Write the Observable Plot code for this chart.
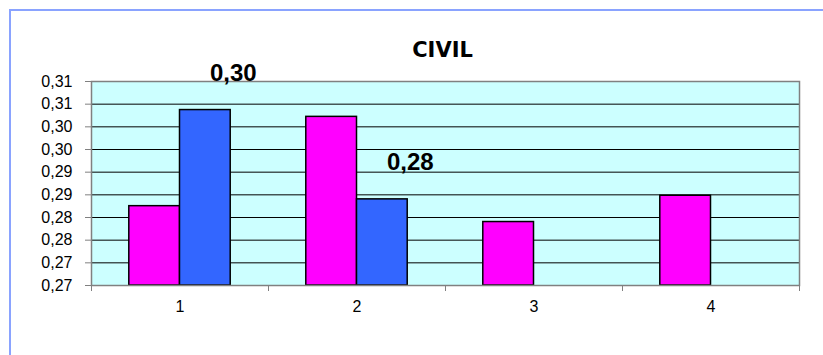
<!DOCTYPE html>
<html>
<head>
<meta charset="utf-8">
<script src="https://cdn.jsdelivr.net/npm/d3@7"></script>
<script src="https://cdn.jsdelivr.net/npm/@observablehq/plot@0.6"></script>
<style>
  html, body { margin: 0; padding: 0; background: #fff; }
  #wrap { position: relative; width: 823px; height: 355px; overflow: hidden; }
  #border { position: absolute; left: 9px; top: 9px; width: 840px; height: 380px;
            border: 2px solid #8aa3ff; box-sizing: border-box; }
  #chart { position: absolute; left: 0; top: 0; }
</style>
</head>
<body>
<div id="wrap"><div id="border"></div><div id="chart"></div></div>
<script>
const title = "CIVIL";
const categories = [1, 2, 3, 4];
const seriesMagenta = [0.2825, 0.3022, 0.2790, 0.2848];
const seriesBlue = [0.3037, 0.2840, null, null];
const yTicks = [0.265, 0.27, 0.275, 0.28, 0.285, 0.29, 0.295, 0.30, 0.305, 0.31];
const yTickLabels = ["0,27", "0,27", "0,28", "0,28", "0,29", "0,29", "0,30", "0,30", "0,31", "0,31"];

const W = 823, H = 355, mL = 91, mR = 24, mT = 81, mB = 70;
const yMin = yTicks[0], yMax = yTicks[yTicks.length - 1];
const step = (W - mL - mR) / categories.length;
const barPx = step * 0.2865;
const gapPx = (step - 2 * barPx) / 2;

const magRows = categories.map((c, i) => ({cat: c, value: seriesMagenta[i]}));
const blueRows = categories.map((c, i) => ({cat: c, value: seriesBlue[i]})).filter(d => d.value != null);
const boundaries = categories.map(c => c - 0.5).concat([categories[categories.length - 1] + 0.5]);
const fmt = v => v.toFixed(2).replace(".", ",");

const chart = Plot.plot({
  width: W, height: H,
  marginLeft: mL, marginRight: mR, marginTop: mT, marginBottom: mB,
  style: {background: "transparent", fontFamily: "'Liberation Sans', Arial, sans-serif", fontSize: "16px", color: "#000", overflow: "visible"},
  x: {type: "linear", domain: [boundaries[0], boundaries[boundaries.length - 1]]},
  y: {domain: [yMin, yMax]},
  marks: [
    Plot.frame({fill: "#ccffff", stroke: null}),
    Plot.ruleY(yTicks.slice(1, -1), {stroke: "#000", strokeWidth: 1}),
    Plot.rectY(magRows, {x1: d => d.cat - 0.5, x2: d => d.cat + 0.5, y1: d => yMin, y2: "value",
      fill: "#ff00ff", stroke: "#000", strokeWidth: 1.5, insetLeft: gapPx, insetRight: gapPx + barPx}),
    Plot.rectY(blueRows, {x1: d => d.cat - 0.5, x2: d => d.cat + 0.5, y1: d => yMin, y2: "value",
      fill: "#3366ff", stroke: "#000", strokeWidth: 1.5, insetLeft: gapPx + barPx, insetRight: gapPx}),
    Plot.frame({stroke: "#808080", strokeWidth: 1.5, fill: null}),
    Plot.axisY({ticks: yTicks, tickFormat: d => yTickLabels[yTicks.indexOf(d)], tickSize: 6, tickPadding: 13,
      stroke: "#808080", fontSize: 16, label: null}),
    Plot.axisX({ticks: boundaries, tickFormat: () => "", tickSize: 6, stroke: "#808080", label: null}),
    Plot.axisX({ticks: categories, tickFormat: d => String(d), tickSize: 0, tickPadding: 15, fontSize: 16, label: null}),
    Plot.text(blueRows, {x: "cat", y: "value", text: d => fmt(d.value), dx: barPx / 2 + 28, dy: -37,
      fontSize: 24, fontWeight: "bold", fill: "#000"}),
    Plot.text([title], {frameAnchor: "top", text: d => d, dx: -3, dy: -39, fontSize: 21, fontWeight: "bold",
      fontFamily: "'DejaVu Sans', Verdana, sans-serif", fill: "#000"})
  ]
});
document.getElementById("chart").appendChild(chart);
</script>
</body>
</html>
